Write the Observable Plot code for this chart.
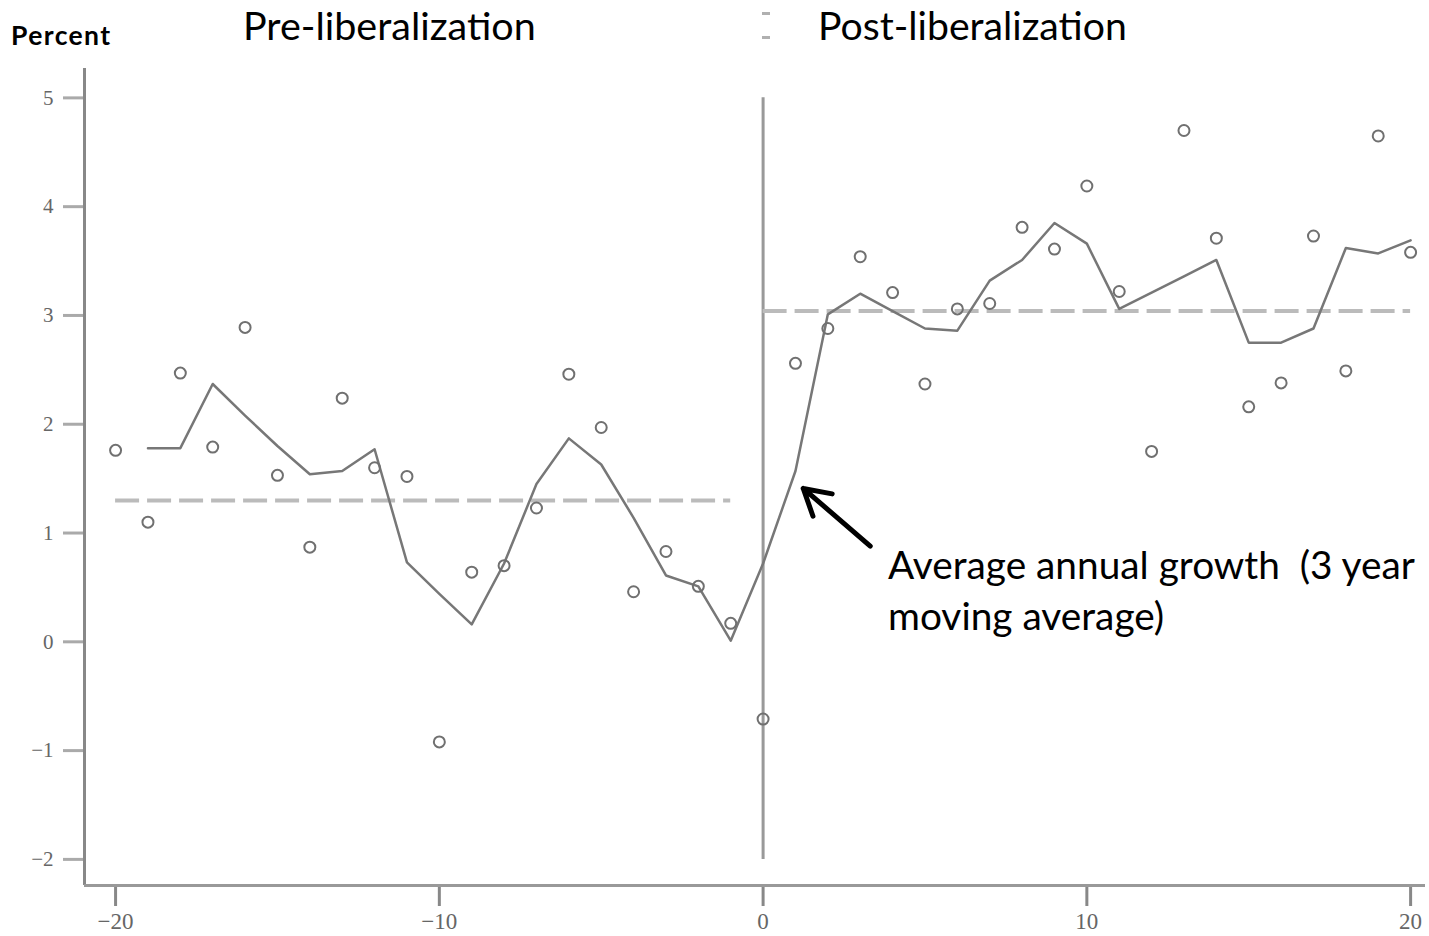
<!DOCTYPE html>
<html>
<head>
<meta charset="utf-8">
<script src="https://cdn.jsdelivr.net/npm/d3@7"></script>
<script src="https://cdn.jsdelivr.net/npm/@observablehq/plot@0.6"></script>
<style>
  html, body { margin: 0; padding: 0; background: #fff; }
  #wrap { position: relative; width: 1429px; height: 936px; overflow: hidden; }
  .lbl { position: absolute; font-family: Lato, "Open Sans", sans-serif; color: #000; white-space: nowrap; line-height: 1; }
  .tick { position: absolute; background: #b0b0b0; width: 8px; height: 3px; }
</style>
</head>
<body>
<div id="wrap">
  <div class="lbl" style="left:11px; top:22px; font-size:26.5px; font-weight:bold; letter-spacing:1.4px;">Percent</div>
  <div class="lbl" style="left:243px; top:5px; font-size:39.5px;">Pre-liberalization</div>
  <div class="tick" style="left:762px; top:12px;"></div>
  <div class="tick" style="left:762px; top:36px;"></div>
  <div class="lbl" style="left:818px; top:5px; font-size:39.2px;">Post-liberalization</div>
  <div class="lbl" style="left:888px; top:539px; font-size:38.8px; line-height:51px;">Average annual growth&nbsp; (3 year<br>moving average)</div>
</div>
<script>
// Years relative to liberalization
const years = d3.range(-20, 21);
// Annual growth, percent (circles)
const growth = [1.76, 1.10, 2.47, 1.79, 2.89, 1.53, 0.87, 2.24, 1.60, 1.52,
  -0.92, 0.64, 0.70, 1.23, 2.46, 1.97, 0.46, 0.83, 0.51, 0.17,
  -0.71, 2.56, 2.88, 3.54, 3.21, 2.37, 3.06, 3.11, 3.81, 3.61,
  4.19, 3.22, 1.75, 4.70, 3.71, 2.16, 2.38, 3.73, 2.49, 4.65, 3.58];
// 3 year moving average (line), from year -19
const maYears = d3.range(-19, 21);
const movingAvg = [1.78, 1.78, 2.37, 2.08, 1.80, 1.54, 1.57, 1.77, 0.73,
  0.44, 0.16, 0.72, 1.45, 1.87, 1.63, 1.14, 0.61, 0.51, 0.01,
  0.72, 1.57, 3.01, 3.20, 3.04, 2.88, 2.86, 3.32, 3.51, 3.85,
  3.66, 3.06, 3.21, 3.36, 3.51, 2.75, 2.75, 2.88, 3.62, 3.57, 3.69];
// Period averages (dashed)
const periodStart = [-20, 0];
const periodEnd = [-1, 20];
const periodMean = [1.30, 3.04];
// Tick labels
const xTicks = [-20, -10, 0, 10, 20];
const yTicks = [-2, -1, 0, 1, 2, 3, 4, 5];
// Arrow annotation (tail -> head)
const arrowFrom = [3.31, 0.88];
const arrowTo = [1.24, 1.41];

const points = years.map((x, i) => ({x, y: growth[i]}));
const ma = maYears.map((x, i) => ({x, y: movingAvg[i]}));
const periods = periodStart.map((s, i) => ({x1: s, x2: periodEnd[i], y: periodMean[i]}));
const xDomain = [-20.96, 20.46];
const yDomain = [-2.24, 5.27];

const chart = Plot.plot({
  width: 1429,
  height: 936,
  marginLeft: 84,
  marginRight: 4,
  marginTop: 68,
  marginBottom: 51,
  style: {fontFamily: "Liberation Serif", background: "transparent"},
  x: {domain: xDomain},
  y: {domain: yDomain},
  marks: [
    Plot.axisY({ticks: yTicks, tickSize: 21, tickPadding: 10, stroke: "#aaa", strokeWidth: 3,
      fill: "#666", fontSize: 21, label: null}),
    Plot.axisX({ticks: xTicks, tickSize: 21, tickPadding: 6, stroke: "#888", strokeWidth: 3,
      fill: "#666", fontSize: 23, label: null}),
    Plot.ruleX([xDomain[0]], {stroke: "#888", strokeWidth: 3}),
    Plot.ruleY([yDomain[0]], {stroke: "#999", strokeWidth: 3}),
    Plot.ruleX([0], {y1: yTicks[0], y2: yTicks[yTicks.length - 1], stroke: "#999", strokeWidth: 3}),
    Plot.ruleY(periods, {x1: "x1", x2: "x2", y: "y", stroke: "#bbb", strokeWidth: 4, strokeDasharray: "24,8"}),
    Plot.line(ma, {x: "x", y: "y", stroke: "#777", strokeWidth: 2.5}),
    Plot.dot(points, {x: "x", y: "y", r: 5.5, stroke: "#707070", strokeWidth: 2, fill: "none"}),
    Plot.arrow([{x1: arrowFrom[0], y1: arrowFrom[1], x2: arrowTo[0], y2: arrowTo[1]}],
      {x1: "x1", y1: "y1", x2: "x2", y2: "y2", stroke: "#000", strokeWidth: 5, headLength: 22, bend: false})
  ]
});
chart.style.position = "absolute";
chart.style.left = "0";
chart.style.top = "0";
document.getElementById("wrap").prepend(chart);
</script>
</body>
</html>
